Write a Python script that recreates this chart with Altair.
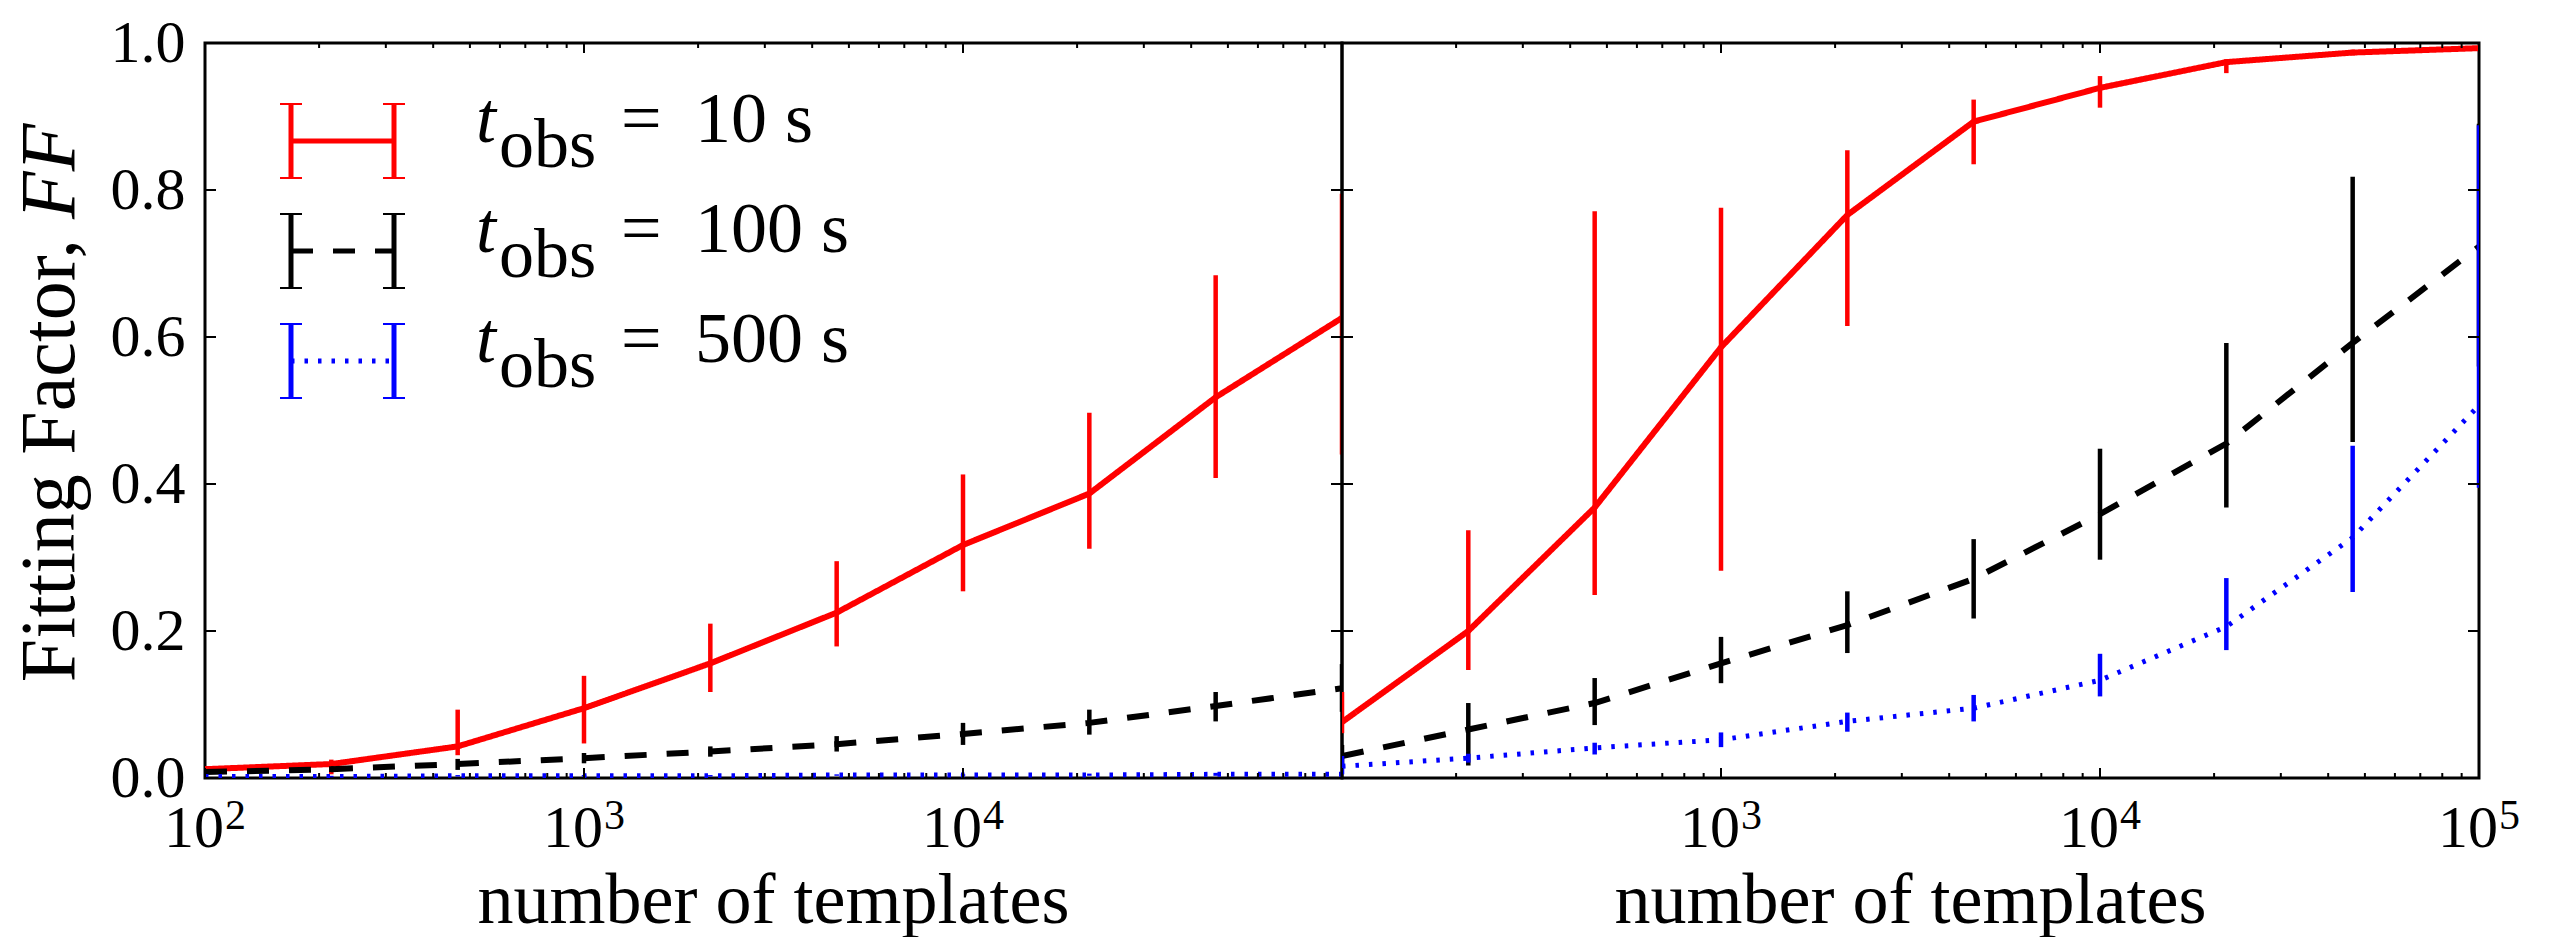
import altair as alt
import pandas as pd

# ---------------- data ----------------
N = [100, 215.4, 464.2, 1000, 2154.4, 4641.6, 10000, 21544, 46416, 100000]

SERIES = ["10 s", "100 s", "500 s"]
COLORS = ["#ff0000", "#000000", "#0000ff"]

# left panel
L_red    = [0.012, 0.019, 0.043, 0.095, 0.156, 0.225, 0.317, 0.387, 0.518, 0.626]
L_red_lo = [0.008, 0.005, 0.031, 0.047, 0.117, 0.179, 0.254, 0.312, 0.408, 0.440]
L_red_hi = [0.016, 0.025, 0.093, 0.139, 0.210, 0.295, 0.413, 0.497, 0.684, 0.795]

L_blk    = [0.008, 0.012, 0.019, 0.027, 0.036, 0.046, 0.060, 0.075, 0.098, 0.122]
L_blk_lo = [0.006, 0.008, 0.011, 0.020, 0.029, 0.036, 0.045, 0.059, 0.077, 0.090]
L_blk_hi = [0.010, 0.016, 0.026, 0.034, 0.043, 0.057, 0.075, 0.093, 0.117, 0.155]

L_blu    = [0.002, 0.002, 0.003, 0.003, 0.003, 0.004, 0.004, 0.004, 0.005, 0.005]
L_blu_lo = [0.001, 0.001, 0.002, 0.002, 0.002, 0.003, 0.003, 0.003, 0.003, 0.003]
L_blu_hi = [0.003, 0.003, 0.004, 0.004, 0.004, 0.005, 0.005, 0.006, 0.007, 0.008]

# right panel
R_red    = [0.076, 0.200, 0.368, 0.586, 0.766, 0.893, 0.939, 0.974, 0.987, 0.993]
R_red_lo = [0.061, 0.147, 0.249, 0.282, 0.615, 0.835, 0.912, 0.959, 0.983, 0.990]
R_red_hi = [0.117, 0.337, 0.771, 0.776, 0.854, 0.923, 0.955, 0.978, 0.991, 0.996]

R_blk    = [0.030, 0.066, 0.102, 0.156, 0.208, 0.271, 0.359, 0.455, 0.592, 0.723]
R_blk_lo = [0.015, 0.017, 0.072, 0.129, 0.170, 0.217, 0.297, 0.368, 0.457, 0.560]
R_blk_hi = [0.045, 0.102, 0.136, 0.192, 0.254, 0.325, 0.448, 0.592, 0.818, 0.890]

R_blu    = [0.016, 0.027, 0.041, 0.052, 0.077, 0.095, 0.133, 0.206, 0.327, 0.507]
R_blu_lo = [0.005, 0.021, 0.032, 0.042, 0.063, 0.077, 0.111, 0.174, 0.253, 0.395]
R_blu_hi = [0.030, 0.033, 0.048, 0.062, 0.089, 0.113, 0.169, 0.272, 0.452, 0.888]

Y_TICKS = [0.0, 0.2, 0.4, 0.6, 0.8, 1.0]
X_MAJOR = [1e2, 1e3, 1e4, 1e5]
X_MINOR = [k * 10 ** e for e in (2, 3, 4) for k in range(2, 10)]
L_XLAB_V = [1e2, 1e3, 1e4]
L_XLAB_E = ["2", "3", "4"]
R_XLAB_V = [1e3, 1e4, 1e5]
R_XLAB_E = ["3", "4", "5"]

Y_TITLE_MAIN = "Fitting Factor,"
Y_TITLE_IT = "FF"
X_TITLE = "number of templates"

# ---------------- styles ----------------
W, H = 1137, 735
FONT = "Liberation Serif"
DASHES = [[1, 0], [22, 20], [3.5, 10]]
LINE_W = 6
BAR_W = 4.5

XS = alt.Scale(type="log", domain=[100, 100000], nice=False)
YS = alt.Scale(domain=[0, 1], nice=False, zero=False)


def yaxis(show):
    if not show:
        return None
    return alt.Axis(values=Y_TICKS, format=".1f", ticks=False, domain=False, grid=False,
                    labelFontSize=60, labelPadding=20, labelFont=FONT, labelColor="black",
                    labelFlush=False, title=None)


def panel(series_data, show_y, xlab_v, xlab_e, with_legend):
    ya = yaxis(show_y)
    X = lambda f: alt.X(f, scale=XS, axis=None)
    Y = lambda f: alt.Y(f, scale=YS, axis=ya)
    layers = []

    # anchor that fixes the page offset of the plot area (invisible)
    if with_legend:
        layers.append(alt.Chart(pd.DataFrame({"a": [0]})).mark_rule(opacity=0, strokeWidth=0.1).encode(
            x=alt.value(-203), x2=alt.value(0), y=alt.value(-41)))

    for (vals, lo, hi), col, dash in zip(series_data, COLORS, DASHES):
        df = pd.DataFrame({"N": N, "ff": vals, "lo": lo, "hi": hi})
        base = alt.Chart(df)
        lw = LINE_W if col != "#0000ff" else LINE_W - 1
        layers.append(base.mark_rule(color=col, strokeWidth=BAR_W, clip=True).encode(
            x=X("N:Q"), y=Y("lo:Q"), y2="hi:Q"))
        layers.append(base.mark_line(color=col, strokeWidth=lw, strokeDash=dash, clip=True).encode(
            x=X("N:Q"), y=Y("ff:Q")))

    # inward ticks
    yt = alt.Chart(pd.DataFrame({"v": Y_TICKS}))
    layers.append(yt.mark_rule(color="black", strokeWidth=2).encode(
        y=Y("v:Q"), x=alt.value(0), x2=alt.value(11)))
    layers.append(yt.mark_rule(color="black", strokeWidth=2).encode(
        y=Y("v:Q"), x=alt.value(W - 11), x2=alt.value(W)))
    xm = alt.Chart(pd.DataFrame({"v": X_MAJOR}))
    layers.append(xm.mark_rule(color="black", strokeWidth=2).encode(
        x=X("v:Q"), y=alt.value(H - 10), y2=alt.value(H)))
    layers.append(xm.mark_rule(color="black", strokeWidth=2).encode(
        x=X("v:Q"), y=alt.value(0), y2=alt.value(10)))
    xn = alt.Chart(pd.DataFrame({"v": X_MINOR}))
    layers.append(xn.mark_rule(color="black", strokeWidth=2).encode(
        x=X("v:Q"), y=alt.value(H - 5), y2=alt.value(H)))
    layers.append(xn.mark_rule(color="black", strokeWidth=2).encode(
        x=X("v:Q"), y=alt.value(0), y2=alt.value(5)))

    # x tick labels 10^k
    xl = alt.Chart(pd.DataFrame({"v": xlab_v, "e": xlab_e}))
    layers.append(xl.mark_text(align="right", baseline="alphabetic", dx=19, fontSize=60, font=FONT,
                               color="black").encode(x=X("v:Q"), y=alt.value(H + 69), text=alt.value("10")))
    layers.append(xl.mark_text(align="left", baseline="alphabetic", dx=20, fontSize=42, font=FONT,
                               color="black").encode(x=X("v:Q"), y=alt.value(H + 51), text="e:N"))

    # x title
    layers.append(alt.Chart(pd.DataFrame({"t": [X_TITLE]})).mark_text(
        align="center", baseline="alphabetic", fontSize=72, font=FONT, color="black").encode(
        x=alt.value(W / 2), y=alt.value(H + 145), text="t:N"))

    if with_legend:
        # y title
        layers.append(alt.Chart(pd.DataFrame({"t": [Y_TITLE_MAIN]})).mark_text(
            align="right", baseline="alphabetic", angle=270, fontSize=78, font=FONT, color="black").encode(
            x=alt.value(-131), y=alt.value(196), text="t:N"))
        layers.append(alt.Chart(pd.DataFrame({"t": [Y_TITLE_IT]})).mark_text(
            align="left", baseline="alphabetic", angle=270, fontSize=78, font=FONT, fontStyle="italic",
            color="black").encode(x=alt.value(-131), y=alt.value(176), text="t:N"))

        # legend
        leg = alt.Chart(pd.DataFrame({"label": SERIES, "i": [0, 1, 2]})).transform_calculate(
            yc="98 + datum.i * 110", yt="datum.yc - 37", yb="datum.yc + 37", ytx="datum.yc + 1",
            ysub="datum.yc + 26")
        C = alt.Color("label:N", scale=alt.Scale(domain=SERIES, range=COLORS), legend=None)
        D = alt.StrokeDash("label:N", scale=alt.Scale(domain=SERIES, range=DASHES), legend=None)
        layers.append(leg.mark_rule(strokeWidth=LINE_W - 1).encode(
            x=alt.value(86), x2=alt.value(189), y=alt.Y("yc:Q", scale=None), color=C, strokeDash=D))
        for xb in (86, 189):
            layers.append(leg.mark_rule(strokeWidth=BAR_W + 0.5).encode(
                x=alt.value(xb), y=alt.Y("yt:Q", scale=None), y2="yb:Q", color=C))
            for yf in ("yt", "yb"):
                layers.append(leg.mark_rule(strokeWidth=2).encode(
                    x=alt.value(xb - 11), x2=alt.value(xb + 11), y=alt.Y(f"{yf}:Q", scale=None), color=C))
        layers.append(leg.mark_text(align="left", baseline="alphabetic", fontSize=72, font=FONT,
                                    fontStyle="italic", color="black").encode(
            x=alt.value(271), y=alt.Y("ytx:Q", scale=None), text=alt.value("t")))
        layers.append(leg.mark_text(align="left", baseline="alphabetic", fontSize=70, font=FONT,
                                    color="black").encode(
            x=alt.value(294), y=alt.Y("ysub:Q", scale=None), text=alt.value("obs")))
        layers.append(leg.mark_text(align="left", baseline="alphabetic", fontSize=72, font=FONT,
                                    color="black").encode(
            x=alt.value(416), y=alt.Y("ytx:Q", scale=None), text=alt.value("=")))
        layers.append(leg.mark_text(align="left", baseline="alphabetic", fontSize=72, font=FONT,
                                    color="black").encode(
            x=alt.value(490), y=alt.Y("ytx:Q", scale=None), text="label:N"))

    return alt.layer(*layers).properties(width=W, height=H)


left = panel([(L_red, L_red_lo, L_red_hi), (L_blk, L_blk_lo, L_blk_hi), (L_blu, L_blu_lo, L_blu_hi)],
             True, L_XLAB_V, L_XLAB_E, True)
right = panel([(R_red, R_red_lo, R_red_hi), (R_blk, R_blk_lo, R_blk_hi), (R_blu, R_blu_lo, R_blu_hi)],
              False, R_XLAB_V, R_XLAB_E, False)

chart = alt.hconcat(left, right, spacing=0, bounds="flush").properties(
    padding={"left": 0, "top": 0, "right": 5, "bottom": 0}, background="white"
).configure_view(stroke="black", strokeWidth=3)

chart.save("out.html", embed_options={"renderer": "svg", "actions": False})
